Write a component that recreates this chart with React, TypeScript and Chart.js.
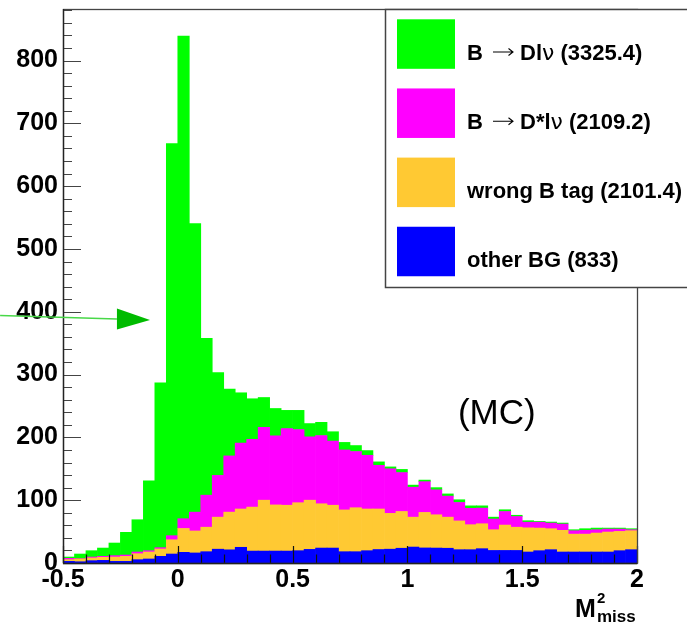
import React, { useEffect, useRef } from 'react';
import { Chart, registerables } from 'chart.js';

Chart.register(...registerables);

// Missing-mass-squared histogram: 50 bins of width 0.05 from -0.5 to 2
const binCenters = [
  -0.475, -0.425, -0.375, -0.325, -0.275, -0.225, -0.175, -0.125, -0.075, -0.025,
  0.025, 0.075, 0.125, 0.175, 0.225, 0.275, 0.325, 0.375, 0.425, 0.475,
  0.525, 0.575, 0.625, 0.675, 0.725, 0.775, 0.825, 0.875, 0.925, 0.975,
  1.025, 1.075, 1.125, 1.175, 1.225, 1.275, 1.325, 1.375, 1.425, 1.475,
  1.525, 1.575, 1.625, 1.675, 1.725, 1.775, 1.825, 1.875, 1.925, 1.975,
];

// Entries per bin for each component (stacked bottom to top)
const otherBG = [
  2.6, 2.0, 3.7, 4.2, 2.6, 2.6, 5.3, 6.4, 10.6, 14.3,
  17, 16, 18, 22, 21, 25, 19, 19, 19, 19,
  19.6, 21.7, 23.8, 23.8, 18, 18, 19.6, 21.5, 22, 23.5,
  25.4, 24, 23.8, 23.5, 21.2, 21.2, 22.8, 20, 20, 20,
  17.5, 19.6, 21.2, 17.5, 17.5, 17.5, 17.5, 17.5, 19.6, 21.2,
];

const wrongBTag = [
  2.7, 4.4, 4.3, 4.8, 6.9, 8.0, 9.5, 11.1, 11.7, 22.7,
  38, 35, 39, 51, 60, 61, 70, 81, 73.5, 73,
  76.4, 78.3, 70.5, 68.2, 66.5, 70, 66.4, 64.5, 57, 58.5,
  47.6, 56.5, 53, 49.5, 45.8, 39.8, 39.7, 33, 40.4, 37,
  38.5, 36, 33.4, 34.5, 28.5, 28.5, 30.2, 31.8, 30.7, 30.2,
];

const bToDStarLNu = [
  2.1, 0.5, 1.5, 1.6, 2.2, 2.1, 2.7, 2.1, 2.1, 6.5,
  15.5, 30, 51, 66.5, 89.5, 105, 108, 116, 110, 122,
  116.5, 101, 108.7, 102, 95.5, 89.5, 85.5, 69.5, 71, 62,
  47.7, 49, 39.7, 33.5, 29.4, 26, 24.9, 17, 21.6, 17,
  9, 9.4, 9, 10, 5.4, 6, 5.3, 4.7, 3.7, 1.6,
];

const bToDLNu = [
  2.1, 7.4, 10.1, 13.2, 20.1, 36.1, 51.4, 111.4, 262.6, 624.2,
  768.3, 459.5, 249.7, 163.5, 106.3, 80, 64.5, 47.5, 43.5, 29,
  30.5, 21, 21, 15, 12, 9.5, 7.5, 5.5, 3, 5,
  3.3, 2.5, 3.5, 3.5, 4.3, 4, 3.6, 3, 2.8, 2,
  2.3, 1.2, 1.6, 1.6, 1.6, 2.6, 2.6, 1.6, 1.6, 1.6,
];

// Legend entries: decay modes carry an arrow between parent and products
const legendLabels = [
  { head: 'B', arrow: true, parts: [['Dl', 'b'], ['\u03BD', 'greek'], [' (3325.4)', 'b']], color: '#00ff00' },
  { head: 'B', arrow: true, parts: [['D*l', 'b'], ['\u03BD', 'greek'], [' (2109.2)', 'b']], color: '#ff00ff' },
  { head: 'wrong B tag (2101.4)', arrow: false, parts: [], color: '#ffc933' },
  { head: 'other BG (833)', arrow: false, parts: [], color: '#0000ff' },
];

const xRange = [-0.5, 2];
const yRange = [0, 882];
const xMajorStep = 0.5;
const xMinorStep = 0.1;
const yMajorStep = 100;
const yMinorStep = 20;

const FONT = '"Liberation Sans", Arial, Helvetica, sans-serif';

const decorPlugin = {
  id: 'histDecor',
  afterDatasetsDraw(chart: any) {
    const { ctx, chartArea: a } = chart;
    const xs = chart.scales.x;
    const ys = chart.scales.y;
    ctx.save();

    // inward ticks on the x axis
    ctx.strokeStyle = '#111';
    ctx.lineWidth = 1.2;
    ctx.beginPath();
    const nx = Math.round((xRange[1] - xRange[0]) / xMinorStep);
    for (let k = 0; k <= nx; k++) {
      const v = xRange[0] + k * xMinorStep;
      const px = Math.round(xs.getPixelForValue(v)) + 0.5;
      const major = Math.abs(v / xMajorStep - Math.round(v / xMajorStep)) < 1e-6;
      const len = major ? 17 : 8.5;
      ctx.moveTo(px, a.bottom);
      ctx.lineTo(px, a.bottom - len);
    }
    ctx.stroke();

    // inward ticks on the y axis
    ctx.strokeStyle = '#444';
    ctx.beginPath();
    for (let v = yRange[0]; v <= yRange[1]; v += yMinorStep) {
      const py = Math.round(ys.getPixelForValue(v)) + 0.5;
      const len = v % yMajorStep === 0 ? 18 : 9;
      ctx.moveTo(a.left, py);
      ctx.lineTo(a.left + len, py);
    }
    ctx.stroke();

    // frame
    ctx.strokeStyle = '#444';
    ctx.lineWidth = 1.3;
    ctx.strokeRect(a.left + 0.5, a.top + 0.5, a.right - a.left, a.bottom - a.top);
    ctx.strokeStyle = '#222';
    ctx.beginPath();
    ctx.moveTo(a.left, a.bottom + 0.5);
    ctx.lineTo(a.right, a.bottom + 0.5);
    ctx.moveTo(a.left + 0.5, a.top);
    ctx.lineTo(a.left + 0.5, a.bottom);
    ctx.stroke();
    ctx.restore();
  },
  afterDraw(chart: any) {
    const { ctx, chartArea: a } = chart;
    const xs = chart.scales.x;
    const ys = chart.scales.y;
    ctx.save();

    // arrow pointing at the B -> D l nu peak
    const tail = { x: xs.getPixelForValue(-0.774), y: ys.getPixelForValue(394) };
    const base = { x: xs.getPixelForValue(-0.265), y: ys.getPixelForValue(388.5) };
    const tip = { x: xs.getPixelForValue(-0.121), y: ys.getPixelForValue(387) };
    ctx.strokeStyle = '#48d848';
    ctx.lineWidth = 1.3;
    ctx.beginPath();
    ctx.moveTo(tail.x, tail.y);
    ctx.lineTo(base.x, base.y);
    ctx.stroke();
    ctx.fillStyle = '#00bb00';
    ctx.beginPath();
    ctx.moveTo(tip.x, tip.y);
    ctx.lineTo(base.x, base.y - 10.5);
    ctx.lineTo(base.x, base.y + 10.5);
    ctx.closePath();
    ctx.fill();

    // (MC) tag
    ctx.fillStyle = '#000';
    ctx.font = `35px ${FONT}`;
    ctx.textAlign = 'left';
    ctx.textBaseline = 'alphabetic';
    ctx.fillText('(MC)', xs.getPixelForValue(1.22), ys.getPixelForValue(221.5));

    // x axis title M^2_miss at the right end
    const right = a.right;
    ctx.font = `bold 25px ${FONT}`;
    ctx.fillText('M', right - 62, 617);
    ctx.font = `bold 15px ${FONT}`;
    ctx.fillText('2', right - 40, 603);
    ctx.font = `bold 17px ${FONT}`;
    ctx.fillText('miss', right - 40, 622);

    // legend box
    const lx = 385;
    const ly = a.top;
    const lw = chart.width - lx + 20;
    const lh = 278;
    ctx.fillStyle = '#fff';
    ctx.fillRect(lx, ly, lw, lh);
    ctx.strokeStyle = '#444';
    ctx.lineWidth = 1.5;
    ctx.strokeRect(lx + 0.5, ly + 0.5, lw, lh);

    const fonts: Record<string, string> = {
      b: `bold 22px ${FONT}`,
      greek: `22px "DejaVu Sans", ${FONT}`,
    };
    legendLabels.forEach((entry, i) => {
      const top = ly + 10.3 + i * 69.15;
      ctx.fillStyle = entry.color;
      ctx.fillRect(lx + 12, top, 58, 49.5);
      const baseY = top + 24.75 + 15.5;
      ctx.fillStyle = '#000';
      ctx.font = fonts.b;
      ctx.fillText(entry.head, lx + 82, baseY);
      if (!entry.arrow) return;
      // thin right arrow
      const ay = baseY - 7.5;
      const ax0 = lx + 108;
      const ax1 = lx + 128;
      ctx.strokeStyle = '#000';
      ctx.lineWidth = 1.1;
      ctx.beginPath();
      ctx.moveTo(ax0, ay);
      ctx.lineTo(ax1, ay);
      ctx.moveTo(ax1 - 4.5, ay - 3.5);
      ctx.lineTo(ax1, ay);
      ctx.lineTo(ax1 - 4.5, ay + 3.5);
      ctx.stroke();
      let tx = lx + 135;
      entry.parts.forEach(([text, kind]) => {
        ctx.font = fonts[kind];
        ctx.fillText(text, tx, baseY);
        tx += ctx.measureText(text).width;
      });
    });

    ctx.restore();
  },
};

export default function App() {
  const canvasRef = useRef<HTMLCanvasElement | null>(null);

  useEffect(() => {
    const canvas = canvasRef.current;
    if (!canvas) return;
    const toPoints = (vals: number[]) => binCenters.map((x, i) => ({ x, y: vals[i] }));
    const chart = new Chart(canvas, {
      type: 'bar',
      data: {
        datasets: [
          { label: 'other BG', data: toPoints(otherBG), backgroundColor: '#0000ff' },
          { label: 'wrong B tag', data: toPoints(wrongBTag), backgroundColor: '#ffc933' },
          { label: 'B -> D* l nu', data: toPoints(bToDStarLNu), backgroundColor: '#ff00ff' },
          { label: 'B -> D l nu', data: toPoints(bToDLNu), backgroundColor: '#00ff00' },
        ] as any,
      },
      options: {
        animation: false,
        responsive: false,
        maintainAspectRatio: false,
        layout: { padding: { top: 9, right: 50, left: 0, bottom: 0 } },
        datasets: {
          bar: { barPercentage: 1, categoryPercentage: 1, borderWidth: 0 },
        } as any,
        plugins: {
          legend: { display: false },
          tooltip: { enabled: false },
          title: { display: false },
        },
        scales: {
          x: {
            type: 'linear',
            stacked: true,
            min: xRange[0],
            max: xRange[1],
            offset: false,
            grid: { display: false, drawTicks: false },
            border: { display: false },
            ticks: {
              stepSize: xMajorStep,
              autoSkip: false,
              maxRotation: 0,
              padding: 2,
              color: '#000',
              font: { family: FONT, size: 25, weight: 'bold', lineHeight: 1.2 },
              callback: (v: any) => String(Math.round(Number(v) * 10) / 10),
            },
            afterFit: (s: any) => {
              s.height = 61;
              s.paddingLeft = 0;
              s.paddingRight = 0;
            },
          },
          y: {
            type: 'linear',
            stacked: true,
            min: yRange[0],
            max: yRange[1],
            grid: { display: false, drawTicks: false },
            border: { display: false },
            ticks: {
              stepSize: yMajorStep,
              includeBounds: false,
              autoSkip: false,
              padding: 5,
              color: '#000',
              font: { family: FONT, size: 25, weight: 'bold' },
            },
            afterFit: (s: any) => {
              s.width = 63;
              s.paddingTop = 0;
              s.paddingBottom = 0;
            },
          },
        },
      } as any,
      plugins: [decorPlugin],
    });
    return () => chart.destroy();
  }, []);

  return (
    <div style={{ position: 'absolute', left: 0, top: 0, width: 687, height: 624, background: '#fff' }}>
      <canvas ref={canvasRef} width={687} height={624} style={{ display: 'block' }} />
    </div>
  );
}
